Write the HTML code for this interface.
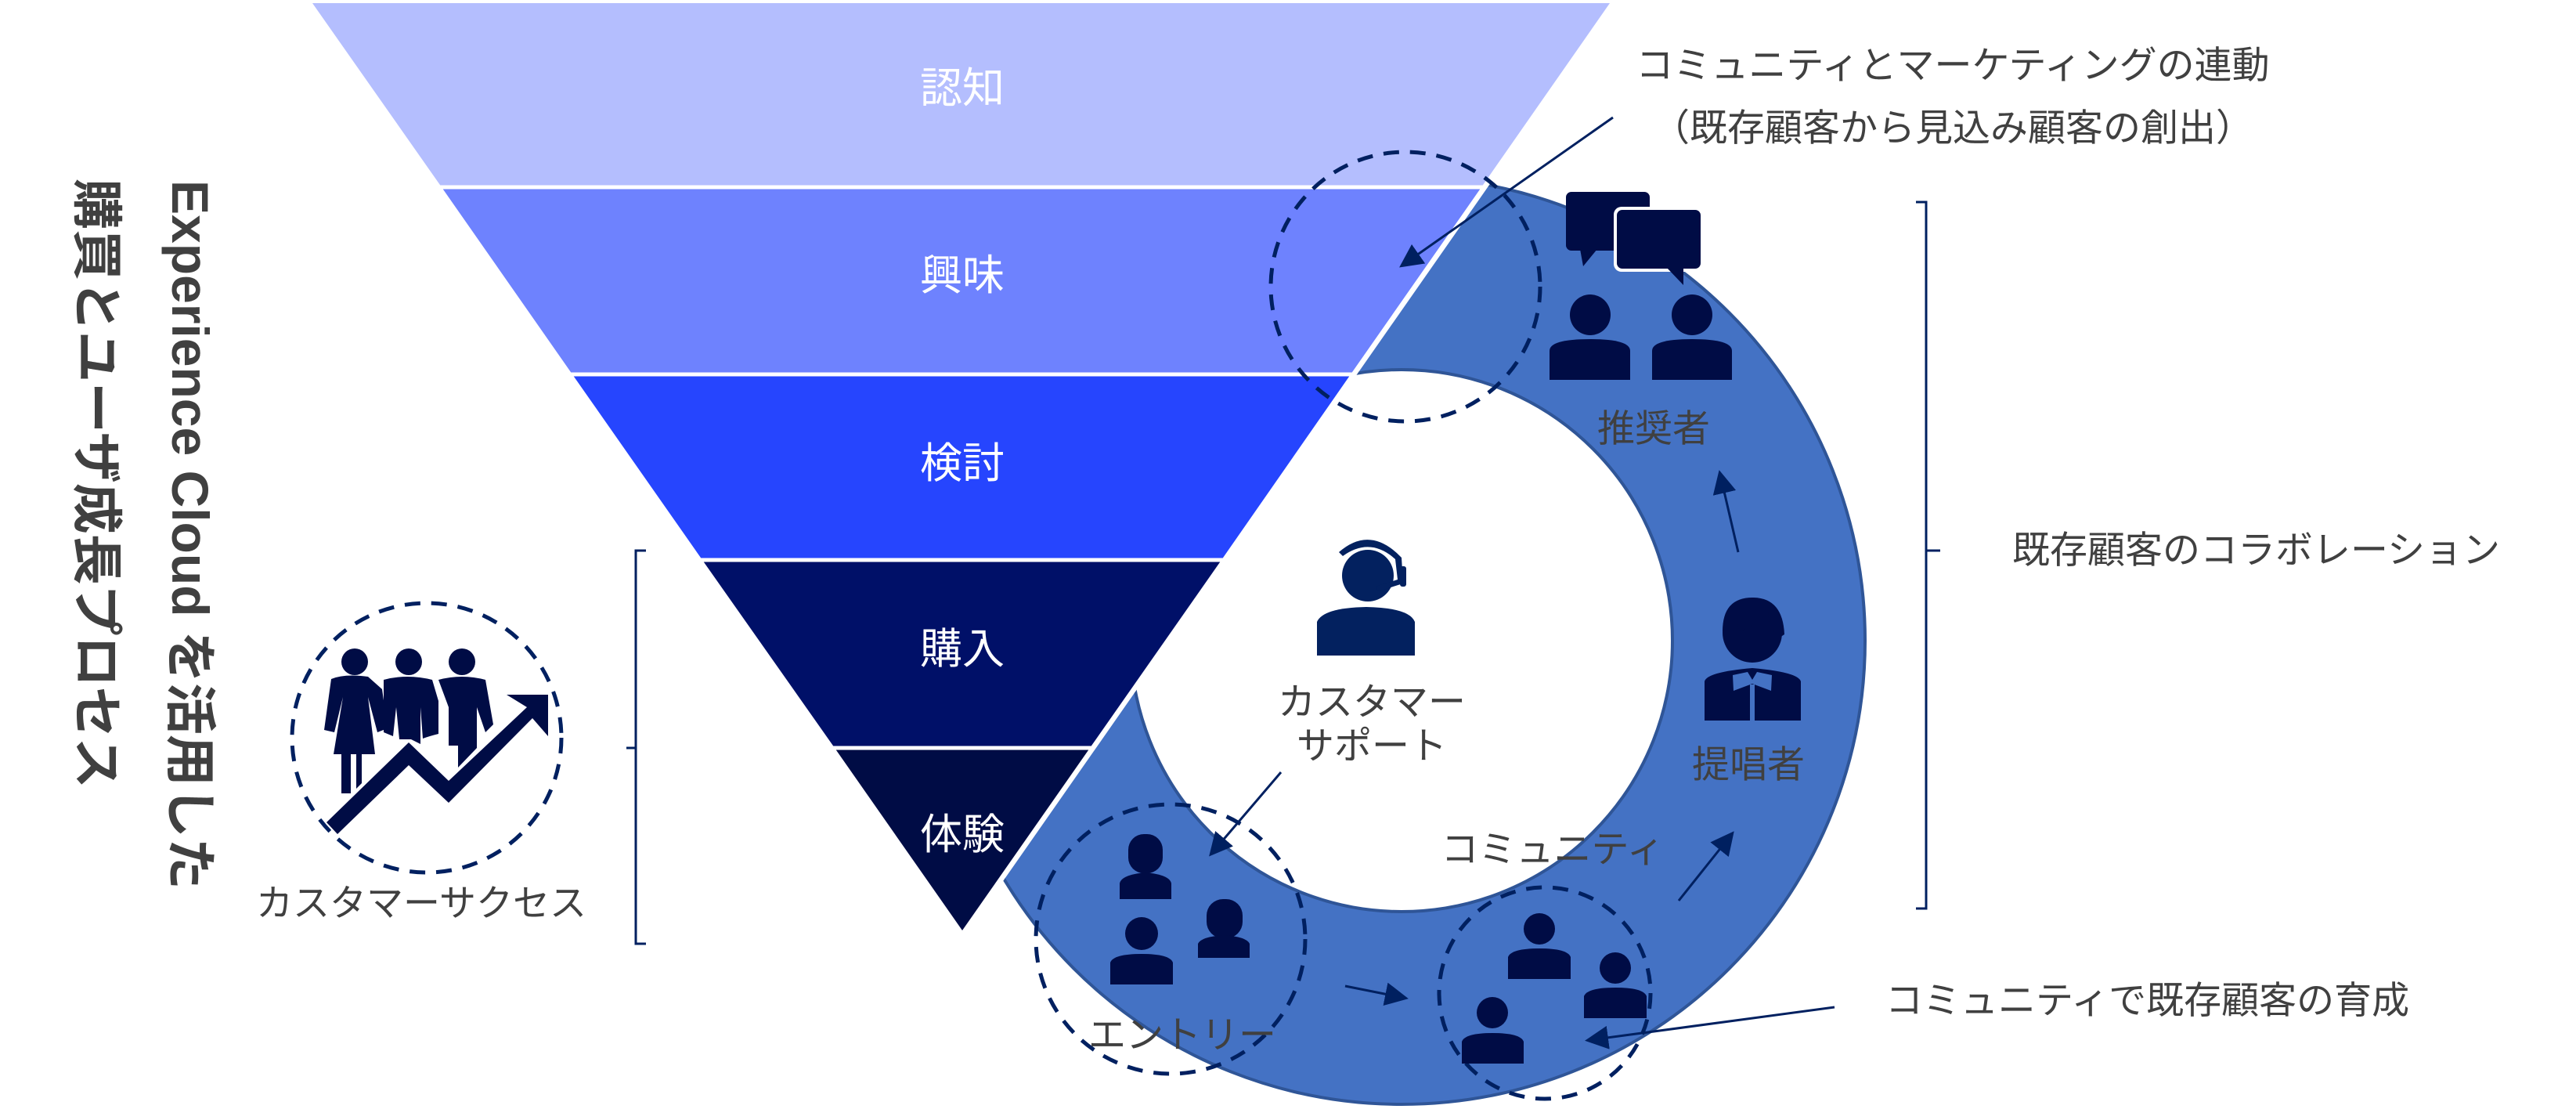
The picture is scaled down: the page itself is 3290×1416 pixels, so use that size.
<!DOCTYPE html>
<html><head><meta charset="utf-8">
<style>
html,body{margin:0;padding:0;background:#fff;}
body{width:3290px;height:1416px;overflow:hidden;position:relative;}
svg{position:absolute;left:0;top:0;}
.vt{position:absolute;transform-origin:0 0;transform:rotate(90deg);white-space:nowrap;color:#404040;font-weight:bold;font-family:"Liberation Sans","Noto Sans CJK JP",sans-serif;}
</style></head>
<body>
<svg width="3290" height="1416" viewBox="0 0 3290 1416" xmlns="http://www.w3.org/2000/svg" font-family="'Liberation Sans','Noto Sans CJK JP',sans-serif">
<defs>
<marker id="a" viewBox="0 0 10 10" refX="8" refY="5" markerWidth="10" markerHeight="10" orient="auto">
<path d="M0,0 L10,5 L0,10 Z" fill="#002060"/>
</marker>
<clipPath id="rc"><polygon points="2102,-50 3300,-50 3300,1450 1054,1450"/></clipPath>
</defs>

<!-- funnel -->
<polygon points="399,4 2056,4 1892,239 564,239" fill="#b4befe"/>
<polygon points="564,239 1892,239 1725,478 731,478" fill="#6e82fe"/>
<polygon points="731,478 1725,478 1560,715 897,715" fill="#2645fe"/>
<polygon points="897,715 1560,715 1392,955 1066,955" fill="#001068"/>
<polygon points="1066,955 1392,955 1229,1188" fill="#000c45"/>
<g stroke="#fff" stroke-width="5">
<line x1="500" y1="239" x2="1950" y2="239"/>
<line x1="650" y1="478" x2="1800" y2="478"/>
<line x1="800" y1="715" x2="1650" y2="715"/>
<line x1="1000" y1="955" x2="1450" y2="955"/>
</g>
<g fill="#fff" font-size="54" text-anchor="middle" dominant-baseline="central">
<text x="1229" y="113">認知</text>
<text x="1229" y="352">興味</text>
<text x="1229" y="592">検討</text>
<text x="1229" y="829">購入</text>
<text x="1229" y="1066">体験</text>
</g>

<!-- ring -->
<g clip-path="url(#rc)">
<path d="M1198,818 A592,592 0 1,0 2382,818 A592,592 0 1,0 1198,818 Z M1444,818 A346,346 0 1,1 2136,818 A346,346 0 1,1 1444,818 Z" fill="#4472c4" fill-rule="evenodd" stroke="#2f5597" stroke-width="4"/>
</g>

<!-- dashed circles -->
<g fill="none" stroke="#002060" stroke-width="5" stroke-dasharray="20 14">
<circle cx="1795" cy="366" r="172"/>
<circle cx="545" cy="942" r="172"/>
<circle cx="1495" cy="1199" r="172"/>
<circle cx="1973" cy="1268" r="135"/>
</g>

<!-- brackets -->
<g fill="none" stroke="#002060" stroke-width="3">
<path d="M825,703 H812 V1205 H825 M812,955 H800"/>
<path d="M2447,258 H2460 V1160 H2447 M2460,703 H2478"/>
</g>

<!-- arrows -->
<g stroke="#002060" stroke-width="3" fill="none" marker-end="url(#a)">
<line x1="2060" y1="150" x2="1792" y2="338"/>
<line x1="2220" y1="705" x2="2197" y2="606"/>
<line x1="2144" y1="1150" x2="2211" y2="1066"/>
<line x1="1718" y1="1259" x2="1793" y2="1274"/>
<line x1="2343" y1="1286" x2="2030" y2="1328"/>
<line x1="1636" y1="986" x2="1548" y2="1089"/>
</g>

<!-- labels -->
<g fill="#404040" font-size="48" dominant-baseline="central">
<text x="2494" y="84" text-anchor="middle">コミュニティとマーケティングの連動</text>
<text x="2494" y="164" text-anchor="middle">（既存顧客から見込み顧客の創出）</text>
<text x="2570" y="703">既存顧客のコラボレーション</text>
<text x="2408" y="1278">コミュニティで既存顧客の育成</text>
<text x="2112" y="548" text-anchor="middle">推奨者</text>
<text x="2233" y="977" text-anchor="middle">提唱者</text>
<text x="1983" y="1085" text-anchor="middle">コミュニティ</text>
<text x="1752" y="897" text-anchor="middle">カスタマー</text>
<text x="1752" y="953" text-anchor="middle">サポート</text>
<text x="1510" y="1322" text-anchor="middle">エントリー</text>
<text x="538" y="1153" text-anchor="middle" font-size="47">カスタマーサクセス</text>
</g>

<!-- chat icon -->
<g fill="#000c45">
<rect x="2000" y="245" width="107" height="75" rx="7"/>
<polygon points="2018,318 2040,318 2022,340"/>
<rect x="2061" y="264" width="115" height="83" rx="10" fill="#fff"/>
<rect x="2065" y="268" width="107" height="75" rx="7"/>
<polygon points="2128,341 2150,341 2150,364"/>
<circle cx="2031" cy="402" r="26"/>
<path d="M1979,485 V448 Q1979,433 2031,433 Q2082,433 2082,448 V485 Z"/>
<circle cx="2161" cy="402" r="26"/>
<path d="M2110,485 V448 Q2110,433 2161,433 Q2212,433 2212,448 V485 Z"/>
</g>

<!-- advocate icon -->
<g fill="#000c45">
<circle cx="2238" cy="808" r="38"/>
<path d="M2200,806 Q2200,762 2240,763 Q2277,764 2279,810 L2270,816 Q2258,790 2258,782 Q2240,800 2222,806 L2219,797 L2208,813 Z"/>
<path d="M2177,920 V870 Q2180,858 2238,853 Q2296,858 2300,870 V920 H2241 V874 H2235 V920 Z"/>
</g>
<g fill="#4472c4"><polygon points="2213,862 2232,858 2238,868 2244,858 2263,862 2262,882 2238,873 2214,882"/></g>

<!-- community people -->
<g fill="#000c45">
<circle cx="1966" cy="1186" r="20"/>
<path d="M1926,1250 V1222 Q1930,1211 1966,1211 Q2002,1211 2006,1222 V1250 Z"/>
<circle cx="2063" cy="1236" r="20"/>
<path d="M2023,1300 V1272 Q2027,1261 2063,1261 Q2099,1261 2103,1272 V1300 Z"/>
<circle cx="1906" cy="1293" r="20"/>
<path d="M1867,1358 V1330 Q1871,1319 1906,1319 Q1942,1319 1946,1330 V1358 Z"/>
</g>

<!-- entry people -->
<g fill="#000c45">
<rect x="1441" y="1065" width="44" height="50" rx="20"/>
<circle cx="1463" cy="1092" r="20"/>
<path d="M1430,1148 V1128 Q1432,1117 1463,1114 Q1494,1117 1496,1128 V1148 Z"/>
<circle cx="1458" cy="1192" r="21"/>
<path d="M1418,1257 V1229 Q1422,1218 1458,1218 Q1494,1218 1498,1229 V1257 Z"/>
<rect x="1541" y="1148" width="46" height="50" rx="21"/>
<circle cx="1563" cy="1176" r="20"/>
<path d="M1530,1223 V1205 Q1534,1196 1563,1194 Q1592,1196 1596,1205 V1223 Z"/>
</g>

<!-- headset -->
<g fill="#03215f">
<circle cx="1747" cy="735" r="33"/>
<path d="M1710,705 Q1750,670 1790,712 L1792,745 L1760,755 L1757,749 L1785,740 L1782,714 Q1750,685 1715,710 Z"/>
<rect x="1788" y="723" width="8" height="26" rx="3"/>
<path d="M1682,837 V794 Q1690,776 1745,775 Q1800,776 1807,794 V837 Z"/>
</g>

<!-- customer success icon -->
<g fill="#000c45">
<circle cx="453" cy="845" r="17"/>
<circle cx="522" cy="845" r="17"/>
<circle cx="590" cy="845" r="17"/>
<path d="M423,867 Q440,860 470,864 L488,880 L495,930 L482,935 L470,890 L479,963 L462,963 L462,1000 L455,1007 L455,963 L448,963 L448,1013 L436,1013 L436,963 L426,963 L438,890 L427,935 L414,932 Z"/>
<path d="M490,868 Q520,860 552,868 L560,895 L560,937 Q548,940 540,943 L537,903 L537,950 L525,944 L510,944 L506,903 L502,940 L490,935 Z"/>
<path d="M560,868 Q590,860 620,868 L630,925 L620,935 L609,903 L609,955 L585,980 L585,952 L573,952 L573,980 L573,903 Z"/>
<path d="M417,1050 L522,948 L573,997 L673,903 L647,887 L700,887 L700,940 L680,917 L573,1025 L522,977 L431,1065 Z"/>
</g>
</svg>

<div class="vt" style="left:277px;top:230px;font-size:66px;line-height:68px;">Experience Cloud を活用した</div>
<div class="vt" style="left:156px;top:228px;font-size:65px;line-height:66px;">購買とユーザ成長プロセス</div>
</body></html>
